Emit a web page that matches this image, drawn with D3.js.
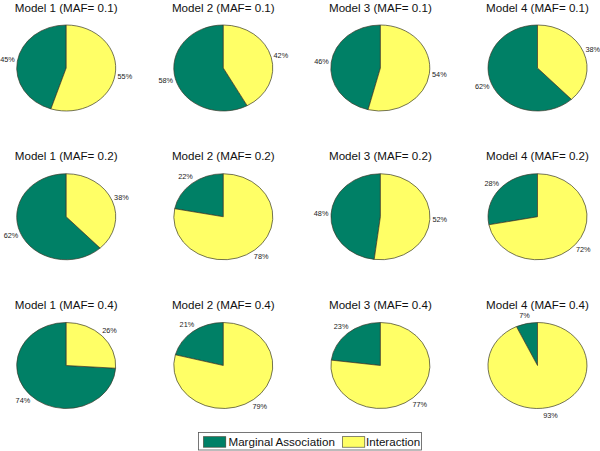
<!DOCTYPE html>
<html>
<head>
<meta charset="utf-8">
<script src="https://cdn.jsdelivr.net/npm/d3@7"></script>
<style>
  html, body { margin: 0; padding: 0; background: #fff; }
  svg { display: block; font-family: "Liberation Sans", Arial, Helvetica, sans-serif; }
</style>
</head>
<body>
<svg id="chart" width="600" height="451"></svg>
<script>
// ---- data ----
const categories = ["Marginal Association", "Interaction"];
const models = ["Model 1", "Model 2", "Model 3", "Model 4"];
const mafs = ["0.1", "0.2", "0.4"];
const marginalValues = [
  [45, 58, 46, 62],
  [62, 22, 48, 28],
  [74, 21, 23, 7]
];
const interactionValues = [
  [55, 42, 54, 38],
  [38, 78, 52, 72],
  [26, 79, 77, 93]
];
const colors = ["#008066", "#ffff66"];

// ---- layout ----
const svg = d3.select("#chart");
const W = 600, H = 451;
svg.append("rect").attr("width", W).attr("height", H).attr("fill", "#fff");

const colX = d3.scaleLinear().domain([0, 3]).range([66.2, 537.5]);
const rowY = d3.scaleLinear().domain([0, 2]).range([68, 365.5]);
const color = d3.scaleOrdinal().domain(categories).range(colors);
const rx = 49.5, ry = 43;

const pie = d3.pie().sort(null).value(d => d.value).startAngle(0).endAngle(-2 * Math.PI);
const arc = d3.arc().innerRadius(0).outerRadius(1);

mafs.forEach((maf, r) => {
  models.forEach((model, c) => {
    const cx = colX(c), cy = rowY(r);
    const data = [
      { cat: categories[0], value: marginalValues[r][c] },
      { cat: categories[1], value: interactionValues[r][c] }
    ];
    const g = svg.append("g");
    g.append("text")
      .attr("x", cx).attr("y", cy - 56.5)
      .attr("text-anchor", "middle")
      .attr("font-size", 11.6)
      .attr("fill", "#111")
      .text(`${model} (MAF= ${maf})`);

    const arcs = pie(data);
    const pg = g.append("g").attr("transform", `translate(${cx},${cy}) scale(${rx},${ry})`);
    pg.selectAll("path").data(arcs).join("path")
      .attr("d", arc)
      .attr("fill", d => color(d.data.cat))
      .attr("stroke", "#3a3a2a")
      .attr("stroke-width", 0.7)
      .attr("vector-effect", "non-scaling-stroke");

    const total = d3.sum(data, d => d.value);
    g.selectAll("text.lbl").data(arcs).join("text")
      .attr("class", "lbl")
      .attr("x", d => { const a = (d.startAngle + d.endAngle) / 2; return cx + 1.2 * rx * Math.sin(a); })
      .attr("y", d => { const a = (d.startAngle + d.endAngle) / 2; return cy - 1.2 * ry * Math.cos(a); })
      .attr("text-anchor", "middle")
      .attr("dominant-baseline", "central")
      .attr("font-size", 7.3)
      .attr("fill", "#222")
      .text(d => Math.round(100 * d.value / total) + "%");
  });
});

// ---- legend ----
const lg = svg.append("g");
lg.append("rect").attr("x", 198.5).attr("y", 432.5).attr("width", 223).attr("height", 17.5)
  .attr("fill", "#fff").attr("stroke", "#555").attr("stroke-width", 0.8);
const items = [
  { cat: categories[0], sx: 203.5, tx: 228.5 },
  { cat: categories[1], sx: 342.5, tx: 366 }
];
items.forEach(it => {
  lg.append("rect").attr("x", it.sx).attr("y", 436.7).attr("width", 22.3).attr("height", 10.5)
    .attr("fill", color(it.cat)).attr("stroke", "#3a3a2a").attr("stroke-width", 0.6);
  lg.append("text").attr("x", it.tx).attr("y", 445.8).attr("font-size", 11.6).attr("fill", "#111")
    .text(it.cat);
});
</script>
</body>
</html>
